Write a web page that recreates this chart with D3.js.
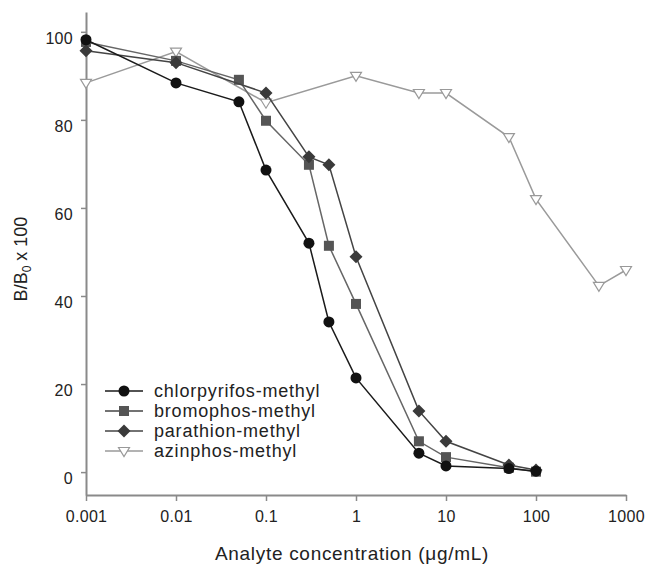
<!DOCTYPE html>
<html lang="en">
<head>
<meta charset="UTF-8">
<title>B/B0 vs analyte concentration</title>
<script src="https://cdn.jsdelivr.net/npm/d3@7.8.5/dist/d3.min.js"></script>
<style>
    body{
        margin:0;
        background:#fff;
        font-family:"Liberation Sans", Arial, sans-serif;
    }
    svg{ display:block; }
</style>
</head>
<body>
<div id="chart"></div>
<script>
// data
const xTicks = [0.001, 0.01, 0.1, 1, 10, 100, 1000];
const xTickLabels = ["0.001", "0.01", "0.1", "1", "10", "100", "1000"];
const yTicks = [0, 20, 40, 60, 80, 100];

const chlorConc = [0.001, 0.01, 0.05, 0.1, 0.3, 0.5, 1, 5, 10, 50, 100];
const chlorVal  = [98.2, 88.4, 84.1, 68.6, 52.0, 34.1, 21.4, 4.3, 1.4, 0.8, 0.2];

const bromoConc = [0.001, 0.01, 0.05, 0.1, 0.3, 0.5, 1, 5, 10, 50, 100];
const bromoVal  = [97.7, 93.4, 89.1, 79.8, 69.8, 51.4, 38.2, 7.0, 3.4, 1.0, 0.1];

const paraConc = [0.001, 0.01, 0.1, 0.3, 0.5, 1, 5, 10, 50, 100];
const paraVal  = [95.7, 93.0, 86.1, 71.6, 69.8, 48.9, 13.9, 7.0, 1.6, 0.5];

const azinConc = [0.001, 0.01, 0.1, 1, 5, 10, 50, 100, 500, 1000];
const azinVal  = [88.4, 95.5, 83.9, 90.0, 86.1, 86.1, 76.1, 62.0, 42.3, 45.9];

const seriesNames = ["chlorpyrifos-methyl", "bromophos-methyl", "parathion-methyl", "azinphos-methyl"];

const W = 645, H = 565;
const margin = {top:12, right:19, bottom:70, left:86};

const svg = d3.select("#chart").append("svg")
    .attr("width", W).attr("height", H);

const x = d3.scaleLog().domain([0.001, 1000]).range([margin.left, W - margin.right]);
const y = d3.scaleLinear().domain([-5.2, 104.5]).range([H - margin.bottom, margin.top]);

// series styles (drawn back to front)
const series = [
    {name: seriesNames[3], conc: azinConc, val: azinVal, line:"#9a9a9a", shape:"tri"},
    {name: seriesNames[1], conc: bromoConc, val: bromoVal, line:"#666", shape:"square"},
    {name: seriesNames[2], conc: paraConc, val: paraVal, line:"#444", shape:"diamond"},
    {name: seriesNames[0], conc: chlorConc, val: chlorVal, line:"#1a1a1a", shape:"circle"}
];

function drawMarker(g, shape){
    if(shape === "circle"){
        g.append("circle").attr("r", 5.5).attr("fill", "#111");
    } else if(shape === "square"){
        g.append("rect").attr("x", -5).attr("y", -5).attr("width", 10).attr("height", 10)
            .attr("fill", "#555");
    } else if(shape === "diamond"){
        g.append("path").attr("d", "M0,-6.5L6.5,0L0,6.5L-6.5,0Z").attr("fill", "#3a3a3a");
    } else {
        g.append("path").attr("d", "M-5.5,-3.5L5.5,-3.5L0,5.5Z")
            .attr("fill", "#fff").attr("stroke", "#999").attr("stroke-width", 1.2);
    }
}

// axes
const yAxis = svg.append("g")
    .attr("transform", `translate(${margin.left},0)`)
    .call(d3.axisLeft(y).tickValues(yTicks).tickSize(5).tickSizeOuter(0).tickPadding(8));

const xAxis = svg.append("g")
    .attr("transform", `translate(0,${H - margin.bottom})`)
    .call(d3.axisBottom(x).tickValues(xTicks).tickSize(6).tickSizeOuter(0).tickPadding(10)
        .tickFormat((d, i) => xTickLabels[i]));

[yAxis, xAxis].forEach(a => {
    a.select(".domain").attr("stroke", "#8a8a8a").attr("stroke-width", 2);
    a.selectAll(".tick line").attr("stroke", "#8a8a8a").attr("stroke-width", 1.5);
    a.selectAll(".tick text").attr("fill", "#222").style("font-size", "16px")
        .style("letter-spacing", "0.3px")
        .style("font-family", "'Liberation Sans', Arial, sans-serif");
});
yAxis.selectAll(".tick text").attr("dy", "0.7em");

// lines and markers
series.forEach(s => {
    const pts = s.conc.map((c, i) => [c, s.val[i]]);
    svg.append("path")
        .datum(pts)
        .attr("fill", "none")
        .attr("stroke", s.line)
        .attr("stroke-width", 1.5)
        .attr("d", d3.line().x(d => x(d[0])).y(d => y(d[1])));

    pts.forEach(p => {
        const g = svg.append("g").attr("transform", `translate(${x(p[0])},${y(p[1])})`);
        drawMarker(g, s.shape);
    });
});

// legend
const legendOrder = [
    {name: seriesNames[0], line:"#1a1a1a", shape:"circle"},
    {name: seriesNames[1], line:"#444", shape:"square"},
    {name: seriesNames[2], line:"#444", shape:"diamond"},
    {name: seriesNames[3], line:"#9a9a9a", shape:"tri"}
];
const legend = svg.append("g").attr("transform", "translate(105,391)");
legendOrder.forEach((s, i) => {
    const row = legend.append("g").attr("transform", `translate(0,${i * 20})`);
    row.append("line").attr("x1", 0).attr("x2", 38).attr("y1", 0).attr("y2", 0)
        .attr("stroke", s.line).attr("stroke-width", 1.5);
    const m = row.append("g").attr("transform", "translate(19,0)");
    drawMarker(m, s.shape);
    row.append("text")
        .attr("x", 49).attr("y", 6)
        .style("font-size", "18px")
        .style("letter-spacing", "0.8px")
        .attr("fill", "#222")
        .text(s.name);
});

// axis titles
svg.append("text")
    .attr("x", (x(0.001) + x(1000)) / 2 - 4)
    .attr("y", 560)
    .attr("text-anchor", "middle")
    .style("font-size", "19px")
    .style("letter-spacing", "0.7px")
    .attr("fill", "#222")
    .text("Analyte concentration (\u03bcg/mL)");

const yTitle = svg.append("text")
    .attr("transform", "translate(27,259) rotate(-90)")
    .attr("text-anchor", "middle")
    .style("font-size", "18px")
    .attr("fill", "#222");
yTitle.append("tspan").text("B/B");
yTitle.append("tspan").attr("dy", 4).style("font-size", "12px").text("0");
yTitle.append("tspan").attr("dy", -4).text(" x 100");
</script>
</body>
</html>
